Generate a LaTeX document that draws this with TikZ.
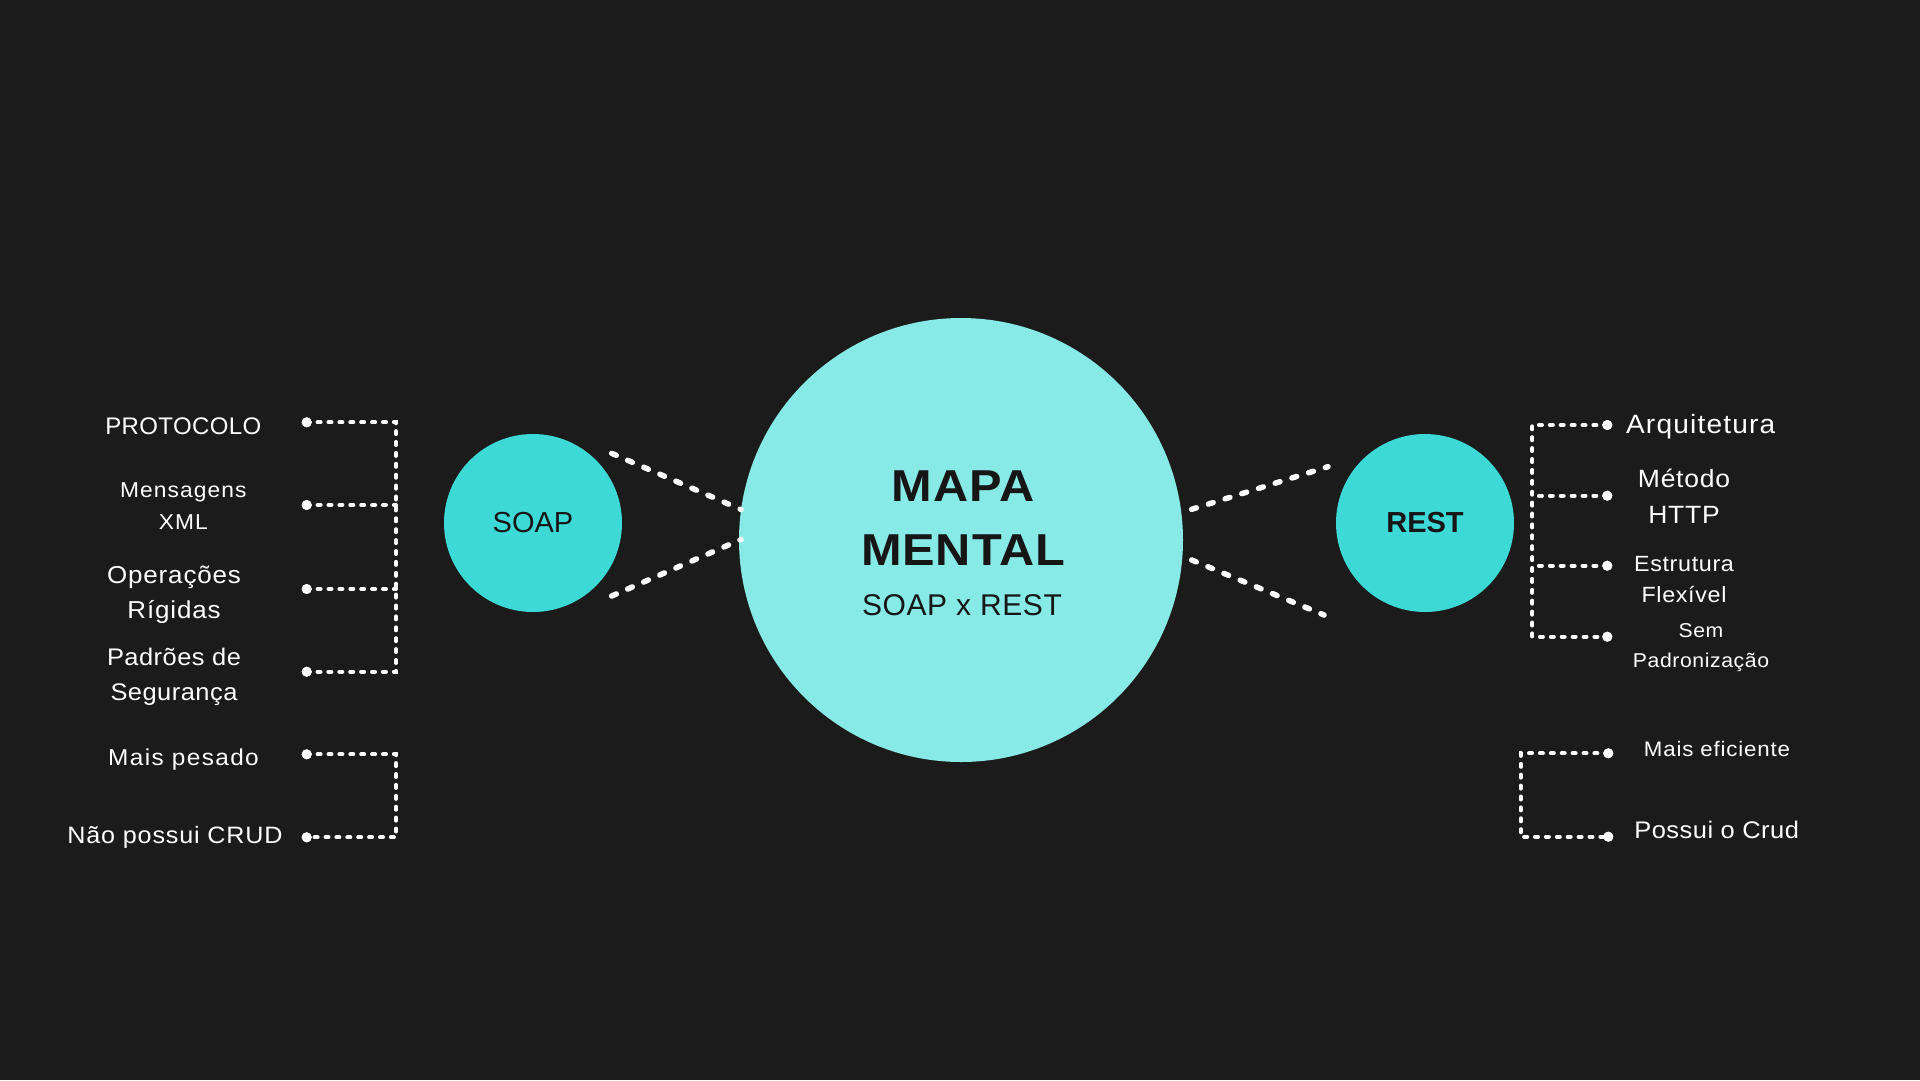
\documentclass[tikz,border=0pt]{standalone}
\usepackage{fontspec}
\setmainfont{Liberation Sans}
\definecolor{bgc}{HTML}{1B1B1B}
\definecolor{hubc}{HTML}{88EAE7}
\definecolor{topicc}{HTML}{3DD9D6}
\definecolor{darkc}{HTML}{161616}
\newcommand{\myfs}[4]{\fontsize{#1}{#2}\selectfont\addfontfeatures{LetterSpace=#3,FakeStretch=#4}}
\newcommand{\php}{\vphantom{Áy}}
\tikzset{
  hub/.style={circle, fill=hubc, minimum size=444pt, inner sep=0pt},
  topic/.style={circle, fill=topicc, minimum size=178pt, inner sep=0pt, text=darkc},
  fan/.style={draw=white, line width=5.5pt, line cap=round, dash pattern=on 5pt off 12.5pt},
  bracket/.style={draw=white, line width=4pt, line cap=round, dash pattern=on 3pt off 7.9pt},
  dotnode/.style={circle, fill=white, minimum size=10pt, inner sep=0pt},
  item/.style={text=white, align=center, inner sep=0pt},
}
\begin{document}
\begin{tikzpicture}[x=1pt,y=-1pt]
\useasboundingbox (0,0) rectangle (1920,1080);
\fill[bgc] (0,0) rectangle (1920,1080);

% central hub and topics
\node[hub] (hub) at (961,540) {};
\node[text=darkc, align=center, inner sep=0pt, font={\myfs{44.7}{63.8}{2}{1.09}\bfseries}] (mapa) at (963,518.6) {MAPA\php\\MENTAL\php};
\node[text=darkc, inner sep=0pt, font={\myfs{30}{36}{2}{1.0}}] (sub) at (962,606) {SOAP x REST\php};

\node[topic, font={\myfs{29}{34}{0}{1.0}}] (soap) at (533,523) {SOAP};
\node[topic, font={\myfs{29}{34}{0}{1.0}\bfseries}] (rest) at (1425,523) {REST};

% fan connectors
\coordinate (sa) at (611.7,453.3);
\coordinate (sb) at (611.7,596);
\coordinate (ha) at (741,509.5);
\coordinate (hb) at (741,539.5);
\coordinate (hc) at (1191.7,509.3);
\coordinate (hd) at (1191.7,560);
\coordinate (ra) at (1328,466.7);
\coordinate (rb) at (1324,615);
\draw[fan] (sa) -- (ha);
\draw[fan] (sb) -- (hb);
\draw[fan] (hc) -- (ra);
\draw[fan] (hd) -- (rb);

% left items
\node[item, font={\myfs{24}{32}{1.5}{1.0}}] (protocolo) at (183.3,426.5) {PROTOCOLO\php};
\node[item, font={\myfs{21.5}{32}{5}{1.06}}] (xml) at (183.3,506.75) {Mensagens\php\\XML\php};
\node[item, font={\myfs{24.5}{35}{3.5}{1.06}}] (rigidas) at (174,593) {Operações\php\\Rígidas\php};
\node[item, font={\myfs{24}{35}{2}{1.06}}] (seguranca) at (174,675) {Padrões de\php\\Segurança\php};
\node[item, font={\myfs{23}{32}{6}{1.06}}] (pesado) at (183.5,757.5) {Mais pesado\php};
\node[item, font={\myfs{23.7}{32}{3.5}{1.06}}] (crud) at (175,835.5) {Não possui CRUD\php};

\node[dotnode] (l1) at (306.7,422.3) {};
\node[dotnode] (l2) at (306.7,505) {};
\node[dotnode] (l3) at (306.7,589) {};
\node[dotnode] (l4) at (306.7,671.7) {};
\node[dotnode] (l5) at (306.7,754.3) {};
\node[dotnode] (l6) at (306.7,837.3) {};
\coordinate (lt) at (396,422.3);
\coordinate (lb) at (396,671.7);
\coordinate (lt2) at (396,754.3);
\coordinate (lb2) at (396,837.3);

% right items
\node[item, font={\myfs{26.5}{34}{4.5}{1.06}}] (arq) at (1700.7,424.5) {Arquitetura\php};
\node[item, font={\myfs{25}{36}{3}{1.06}}] (http) at (1684,497.5) {Método\php\\HTTP\php};
\node[item, font={\myfs{22}{31}{3}{1.06}}] (flex) at (1684,579.5) {Estrutura\php\\Flexível\php};
\node[item, font={\myfs{20}{30}{3}{1.06}}] (padron) at (1701,646) {Sem\php\\Padronização\php};
\node[item, font={\myfs{21}{30}{4}{1.06}}] (efic) at (1717,750) {Mais eficiente\php};
\node[item, font={\myfs{24}{32}{2}{1.06}}] (possui) at (1716.7,830.4) {Possui o Crud\php};

\node[dotnode] (r1) at (1607.3,425) {};
\node[dotnode] (r2) at (1607.3,495.7) {};
\node[dotnode] (r3) at (1607.3,565.7) {};
\node[dotnode] (r4) at (1607.3,636.7) {};
\node[dotnode] (r5) at (1608.3,753.3) {};
\node[dotnode] (r6) at (1608.3,836.7) {};
\coordinate (rt) at (1532.3,425);
\coordinate (rbm) at (1532.3,636.7);
\coordinate (rt2) at (1520.7,753.3);
\coordinate (rb2) at (1520.7,836.7);

% brackets
\draw[bracket] (l1.center) -- (lt) -- (lb) -- (l4.center);
\draw[bracket] (l2.center) -- (l2.center -| lt);
\draw[bracket] (l3.center) -- (l3.center -| lt);
\draw[bracket] (l5.center) -- (lt2) -- (lb2) -- (l6.center);
\draw[bracket] (r1.center) -- (rt) -- (rbm) -- (r4.center);
\draw[bracket] (r2.center) -- (r2.center -| rt);
\draw[bracket] (r3.center) -- (r3.center -| rt);
\draw[bracket] (r5.center) -- (rt2) -- (rb2) -- (r6.center);
\foreach \d in {l1,l2,l3,l4,l5,l6,r1,r2,r3,r4,r5,r6} {\fill[white] (\d) circle (5pt);}
\end{tikzpicture}
\end{document}
